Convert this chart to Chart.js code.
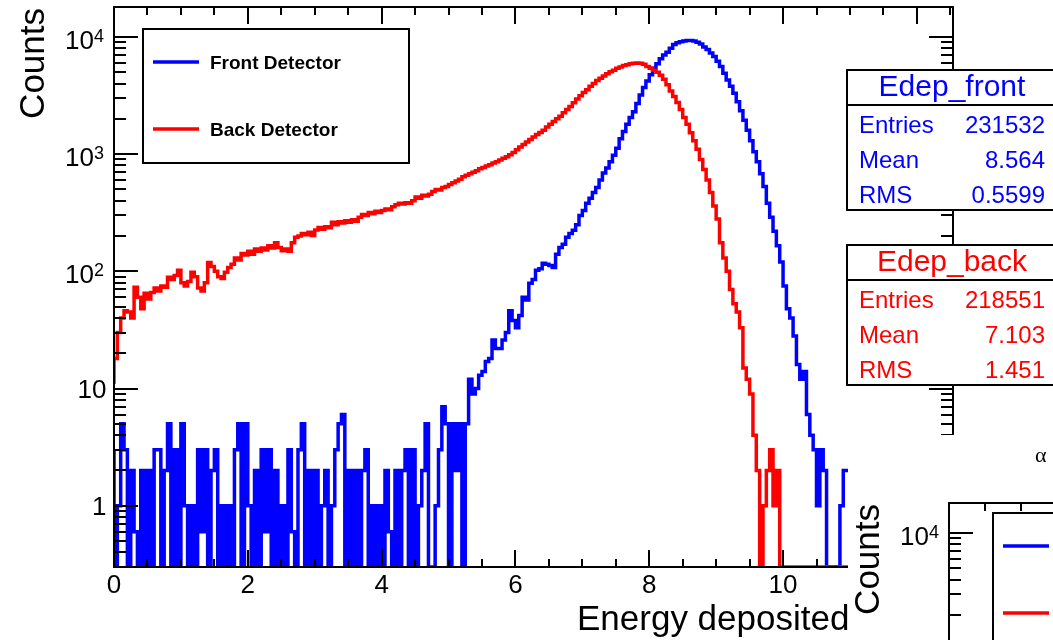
<!DOCTYPE html>
<html>
<head>
<meta charset="utf-8">
<title>Edep front / back</title>
<script src="https://cdn.jsdelivr.net/npm/chart.js@4.4.1/dist/chart.umd.min.js"></script>
<style>
  html, body { margin: 0; padding: 0; background: #fff; }
  #edep { position: absolute; left: 0; top: 0; }
  #pad2 { position: absolute; left: 848px; top: 435px; width: 205px; height: 205px; overflow: hidden; background: #fff; }
  #alpha { position: absolute; left: 0; top: 0; }
</style>
</head>
<body>
<canvas id="edep" width="1053" height="640"></canvas>
<div id="pad2"><canvas id="alpha" width="1104" height="701"></canvas></div>
<script>
// histogram binning (MeV)
var binWidth = 0.05;
var xMax = 12.54;
var yMin = 0.3, yMax = 18000;

var seriesLabels = ['Front Detector', 'Back Detector'];

// bin contents, one per 0.05 MeV starting at 0
var frontCounts = [
  3, 0, 1, 5, 3, 0, 2, 0.6, 0, 2,
  0, 2, 0, 3, 3, 0, 2, 5, 0, 3,
  0, 5, 1, 0, 1, 0, 3, 0.6, 3, 0,
  2, 3, 0, 1, 0, 1, 0, 3, 5, 0,
  5, 1, 0, 2, 0, 3, 0.6, 3, 0, 2,
  0, 1, 0, 3, 0.6, 0, 3, 5, 0, 2,
  0, 2, 0, 1, 2, 0, 1, 3, 5, 6,
  0, 2, 0, 2, 0, 2, 3, 0, 1, 0,
  1, 0, 2, 0.6, 0, 2, 0, 2, 3, 0,
  3, 0, 1, 2, 5, 0, 0, 1, 3, 7,
  5, 0, 5, 2, 5, 0, 5, 12, 9, 10,
  13, 14, 17, 18, 26, 22, 22, 26, 30, 46,
  38, 33, 42, 60, 57, 79, 85, 102, 105, 117,
  115, 112, 108, 140, 160, 170, 195, 210, 224, 250,
  300, 330, 380, 420, 470, 520, 600, 690, 760, 860,
  980, 1120, 1350, 1560, 1800, 2050, 2300, 2700, 3200, 3700,
  4200, 4750, 5400, 5900, 6500, 7000, 7400, 8000, 8600, 8900,
  9100, 9250, 9300, 9300, 9250, 9000, 8700, 8200, 7800, 7300,
  6800, 6200, 5600, 4900, 4300, 3800, 3300, 2800, 2350, 1950,
  1600, 1300, 1050, 860, 680, 530, 380, 290, 220, 165,
  120, 75, 48, 40, 28, 16, 12, 14, 6, 4,
  3, 1, 3, 2, 0, 0, 0, 0, 1, 2
];

var backCounts = [
  11, 18, 30, 40, 46, 45, 40, 73, 60, 48,
  65, 58, 66, 72, 68, 75, 73, 89, 85, 92,
  102, 80, 75, 82, 98, 90, 72, 68, 80, 119,
  110, 100, 90, 87, 98, 108, 115, 130, 125, 142,
  138, 148, 140, 155, 148, 158, 152, 165, 158, 175,
  160, 150, 155, 148, 175, 195, 200, 210, 205, 215,
  202, 225, 237, 228, 240, 235, 262, 250, 265, 258,
  270, 262, 275, 268, 290, 305, 300, 318, 310, 325,
  318, 330, 340, 335, 355, 370, 380, 375, 385, 380,
  400, 430, 420, 445, 440, 455, 480, 500, 495, 520,
  530, 550, 570, 590, 610, 640, 660, 680, 700, 720,
  750, 770, 790, 810, 840, 860, 890, 920, 950, 990,
  1030, 1090, 1150, 1210, 1270, 1330, 1400, 1470, 1530, 1600,
  1700, 1800, 1900, 2000, 2100, 2250, 2400, 2550, 2750, 2950,
  3150, 3350, 3550, 3800, 4000, 4250, 4450, 4650, 4850, 5050,
  5200, 5400, 5550, 5700, 5800, 5900, 5970, 6000, 5950, 5850,
  5600, 5400, 5200, 5000, 4700, 4350, 3900, 3450, 3100, 2760,
  2400, 2050, 1800, 1520, 1300, 1100, 900, 740, 600, 470,
  360, 280, 175, 130, 100, 70, 53, 45, 33, 15,
  12, 9, 4, 2, 0, 1, 2, 3, 1, 2,
  0, 0, 0, 0, 0, 0, 0, 0, 0, 0,
  0, 0, 0, 0, 0, 0, 0, 0, 0, 0
];

var xTickValues = [0, 2, 4, 6, 8, 10, 12];
var yTickValues = [1, 10, 100, 1000, 10000];

// stat boxes
var statNames = ['Edep_front', 'Edep_back'];
var statEntries = ['231532', '218551'];
var statMean = ['8.564', '7.103'];
var statRms = ['0.5599', '1.451'];

var BLUE = '#0000ff', RED = '#ff0000';
var FONT = '"Liberation Sans", Arial, sans-serif';

// empty bins sit on the frame floor, like ROOT does on a log axis
function histPoints(counts) {
  var pts = counts.map(function(c, i) { return { x: i * binWidth, y: Math.max(c, yMin) }; });
  pts.push({ x: counts.length * binWidth, y: Math.max(counts[counts.length - 1], yMin) });
  return pts;
}

// frame, inward ticks on all four sides, labels and titles
function drawPadAxes(chart, o) {
  var ctx = chart.ctx, a = chart.chartArea, xs = chart.scales.x, ys = chart.scales.y;
  ctx.save();
  ctx.strokeStyle = '#000';
  ctx.fillStyle = '#000';
  ctx.lineWidth = 2;
  ctx.beginPath();
  for (var i = 0; i * 0.5 <= xs.max; i++) {
    var px = Math.round(xs.getPixelForValue(i * 0.5));
    var len = i % 4 === 0 ? 17 : 8;
    ctx.moveTo(px, a.bottom); ctx.lineTo(px, a.bottom - len);
    ctx.moveTo(px, a.top); ctx.lineTo(px, a.top + len);
  }
  for (var d = -1; d <= 4; d++) {
    for (var m = 1; m <= 9; m++) {
      var v = m * Math.pow(10, d);
      if (v <= ys.min || v > ys.max) continue;
      var py = Math.round(ys.getPixelForValue(v));
      var l = m === 1 ? 24 : 12;
      ctx.moveTo(a.left, py); ctx.lineTo(a.left + l, py);
      ctx.moveTo(a.right, py); ctx.lineTo(a.right - l, py);
    }
  }
  ctx.stroke();
  ctx.strokeRect(a.left, a.top, a.right - a.left, a.bottom - a.top);

  ctx.textBaseline = 'alphabetic';
  ctx.font = '26px ' + FONT;
  ctx.textAlign = 'center';
  xTickValues.forEach(function(v) {
    ctx.fillText(String(v), xs.getPixelForValue(v), a.bottom + 26);
  });

  ctx.textAlign = 'left';
  yTickValues.forEach(function(v) {
    var py = ys.getPixelForValue(v);
    var exp = Math.round(Math.log10(v));
    if (exp < 2) {
      ctx.font = '26px ' + FONT;
      var t = String(v);
      var ink = ctx.measureText(t).actualBoundingBoxRight;
      ctx.fillText(t, a.left - 8 - ink, py + 9.5);
    } else {
      ctx.font = '18px ' + FONT;
      var e = String(exp), we = ctx.measureText(e).width;
      ctx.font = '26px ' + FONT;
      var wb = ctx.measureText('10').width;
      var x0 = a.left - 10 - wb - we;
      ctx.fillText('10', x0, py + 12);
      ctx.font = '18px ' + FONT;
      ctx.fillText(e, x0 + wb, py + 5);
    }
  });

  ctx.font = '35px ' + FONT;
  ctx.save();
  ctx.translate(a.left - 70, a.top + 1);
  ctx.rotate(-Math.PI / 2);
  ctx.textAlign = 'right';
  ctx.fillText('Counts', 0, 0);
  ctx.restore();

  ctx.textAlign = 'left';
  ctx.fillText('Energy deposited [MeV]', a.left + 463, a.bottom + 63);
  ctx.restore();
}

function drawLegendBox(ctx, lg) {
  ctx.save();
  ctx.fillStyle = '#fff';
  ctx.fillRect(lg.x, lg.y, lg.w, lg.h);
  ctx.strokeStyle = '#000';
  ctx.lineWidth = 2;
  ctx.strokeRect(lg.x, lg.y, lg.w, lg.h);
  [BLUE, RED].forEach(function(c, i) {
    var ly = lg.y + 33 + 67 * i;
    ctx.strokeStyle = c;
    ctx.lineWidth = 3.5;
    ctx.beginPath();
    ctx.moveTo(lg.x + 10, ly); ctx.lineTo(lg.x + 56, ly);
    ctx.stroke();
    if (lg.text) {
      ctx.fillStyle = '#000';
      ctx.font = 'bold 19px ' + FONT;
      ctx.textAlign = 'left';
      ctx.fillText(seriesLabels[i], lg.x + 67, ly + 7);
    }
  });
  ctx.restore();
}

function drawStatBox(ctx, x, y, idx, color) {
  var w = 210, h = 140;
  ctx.save();
  ctx.fillStyle = '#fff';
  ctx.fillRect(x, y, w, h);
  ctx.strokeStyle = '#000';
  ctx.lineWidth = 2;
  ctx.strokeRect(x, y, w, h);
  ctx.beginPath();
  ctx.moveTo(x, y + 35); ctx.lineTo(x + w, y + 35);
  ctx.stroke();
  ctx.fillStyle = color;
  ctx.textBaseline = 'alphabetic';
  ctx.font = '30px ' + FONT;
  ctx.textAlign = 'center';
  ctx.fillText(statNames[idx], x + 105, y + 26);
  ctx.font = '24px ' + FONT;
  [['Entries', statEntries[idx]], ['Mean', statMean[idx]], ['RMS', statRms[idx]]].forEach(function(r, i) {
    var by = y + 62.5 + 35 * i;
    ctx.textAlign = 'left';
    ctx.fillText(r[0], x + 12, by);
    ctx.textAlign = 'right';
    ctx.fillText(r[1], x + 198, by);
  });
  ctx.restore();
}

var rootPad = {
  id: 'rootPad',
  afterDatasetsDraw: function(chart, args, opts) {
    drawPadAxes(chart, opts);
    var ctx = chart.ctx;
    if (opts.legend) drawLegendBox(ctx, opts.legend);
    if (opts.stats) {
      drawStatBox(ctx, 847, 70, 0, BLUE);
      drawStatBox(ctx, 847, 245, 1, RED);
    }
    if (opts.title) {
      ctx.save();
      ctx.fillStyle = '#000';
      ctx.font = '22px "Liberation Serif", serif';
      ctx.textAlign = 'left';
      ctx.fillText(opts.title.text, opts.title.x, opts.title.y);
      ctx.restore();
    }
  }
};

function padScales() {
  return {
    x: { type: 'linear', min: 0, max: xMax, display: false },
    y: { type: 'logarithmic', min: yMin, max: yMax, display: false }
  };
}

new Chart(document.getElementById('edep').getContext('2d'), {
  type: 'line',
  data: {
    datasets: [{
      label: seriesLabels[0],
      data: histPoints(frontCounts),
      borderColor: BLUE,
      borderWidth: 3.5,
      stepped: 'after',
      pointRadius: 0,
      fill: false,
      order: 1
    }, {
      label: seriesLabels[1],
      data: histPoints(backCounts),
      borderColor: RED,
      borderWidth: 3.5,
      stepped: 'after',
      pointRadius: 0,
      fill: false,
      order: 0
    }]
  },
  options: {
    responsive: false,
    animation: false,
    layout: { padding: { left: 114, top: 7, right: 100, bottom: 73 } },
    scales: padScales(),
    plugins: {
      legend: { display: false },
      tooltip: { enabled: false },
      rootPad: { legend: { x: 143, y: 29, w: 266, h: 134, text: true }, stats: true }
    }
  },
  plugins: [rootPad]
});

// neighbouring pad, only its upper-left corner is on screen
new Chart(document.getElementById('alpha').getContext('2d'), {
  type: 'line',
  data: { datasets: [] },
  options: {
    responsive: false,
    animation: false,
    layout: { padding: { left: 101, top: 68, right: 100, bottom: 73 } },
    scales: padScales(),
    plugins: {
      legend: { display: false },
      tooltip: { enabled: false },
      rootPad: { legend: { x: 145, y: 78, w: 266, h: 134, text: false }, title: { text: 'α', x: 187, y: 27 } }
    }
  },
  plugins: [rootPad]
});
</script>
</body>
</html>
